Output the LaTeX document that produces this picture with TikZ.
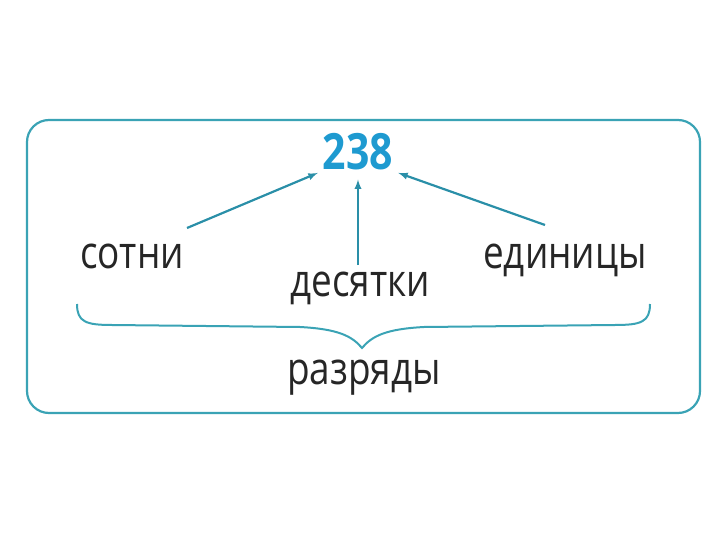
\documentclass[tikz,border=0pt]{standalone}
\usepackage{fontspec}
\setmainfont{Open Sans}[FakeStretch=0.82]
\definecolor{teal}{HTML}{3AA3B5}
\definecolor{arrowteal}{HTML}{2A8FA8}
\definecolor{numblue}{HTML}{1E9AD0}
\usepackage{tikz}
\tikzset{>=latex}
\tikzset{word/.style={inner sep=0pt, font=\fontsize{45}{48}\selectfont, text=black!85},
  arr/.style={->, draw=arrowteal, line width=2.2pt, shorten >=1pt}}

\begin{document}
\begin{tikzpicture}[x=1pt,y=-1pt]
\useasboundingbox (0,0) rectangle (720,540);
\draw[teal, line width=2.2pt, rounded corners=22pt] (27,120) rectangle (700,413);
\node[inner sep=0pt, font=\fontsize{50}{54}\selectfont\bfseries, text=numblue] (num) at (358,152) {238};
\node[word] (sotni) at (132,256) {сотни};
\node[word] (desyatki) at (360,288) {десятки};
\node[word] (edinitsy) at (565,260) {единицы};
\node[word] (razryady) at (364,378) {разряды};
  \coordinate (a) at (187,228);
  \coordinate (b) at (358,265);
  \coordinate (c) at (545,225);
  \draw[arr] (a) -- ([xshift=-4pt,yshift=-2pt]num.south west);
  \draw[arr] (b) -- ([yshift=-8pt]num.south);
  \draw[arr] (c) -- ([xshift=4pt,yshift=-2pt]num.south east);
  % brace under the three words
  \draw[teal, line width=2pt] (77,304) .. controls (77,322) and (86,325) .. (112,325)
    -- (300,327) .. controls (338,329) and (352,336) .. (362,348)
    .. controls (372,336) and (386,329) .. (424,327) -- (615,325)
    .. controls (641,325) and (650,322) .. (650,304);
\end{tikzpicture}
\end{document}
